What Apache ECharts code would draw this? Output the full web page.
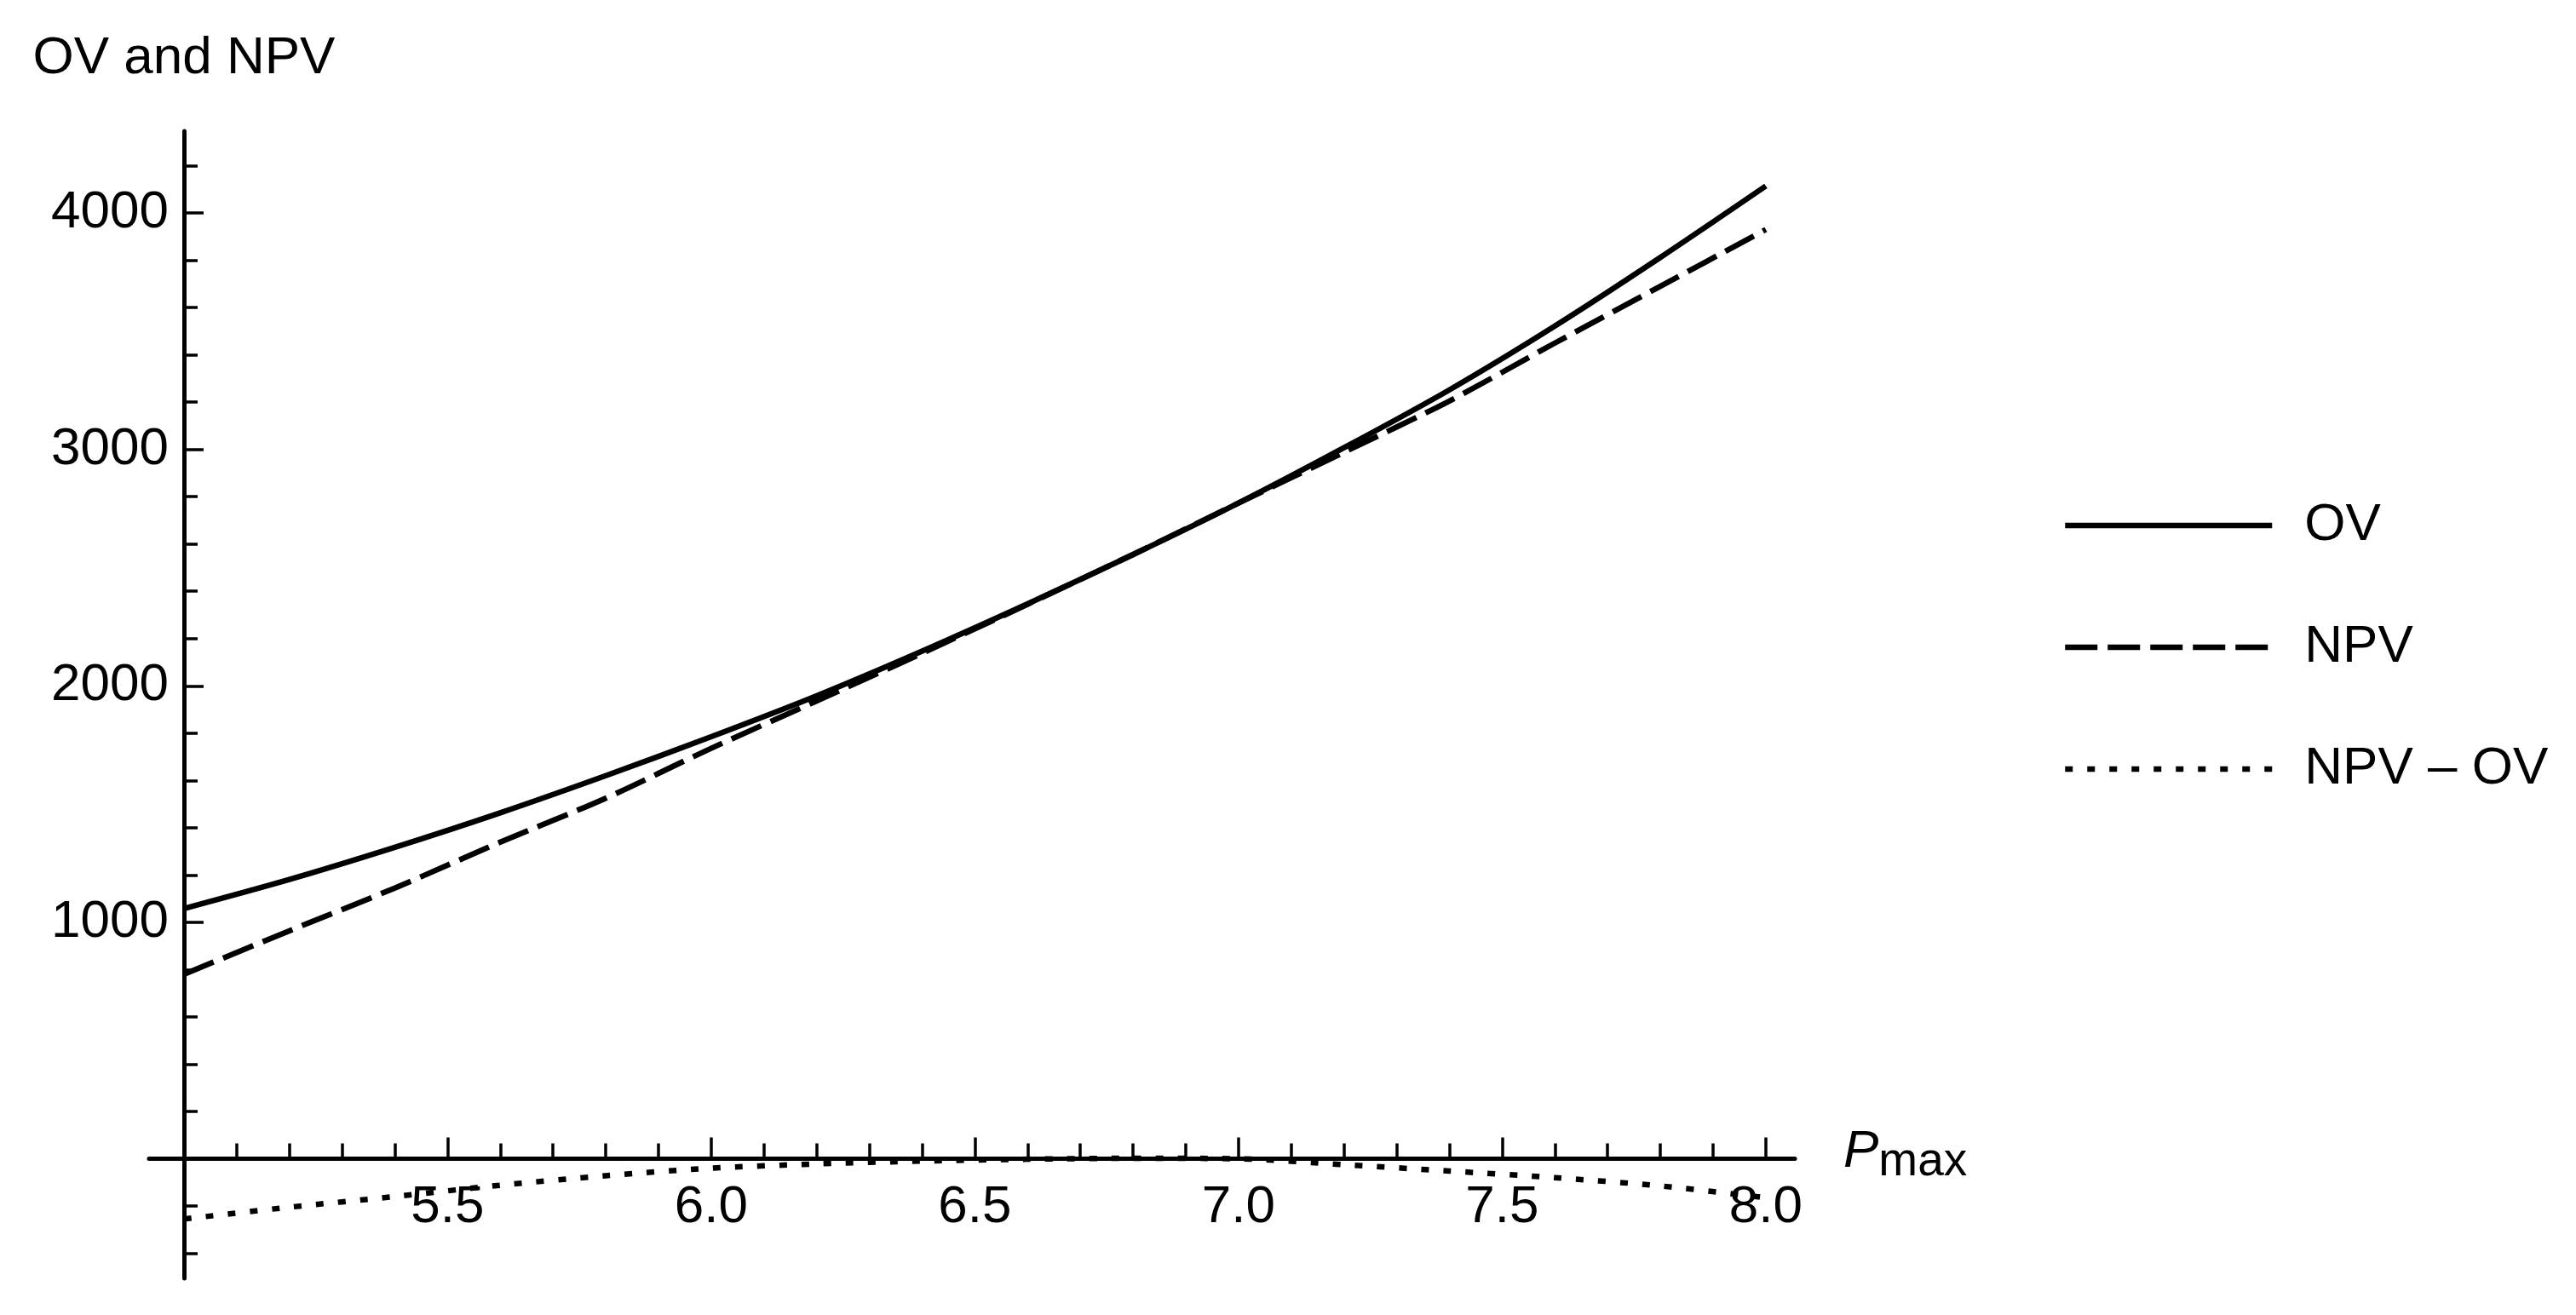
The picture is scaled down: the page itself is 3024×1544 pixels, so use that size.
<!DOCTYPE html>
<html>
<head>
<meta charset="utf-8">
<title>OV and NPV</title>
<script src="https://cdn.jsdelivr.net/npm/echarts@6/dist/echarts.min.js"></script>
<style>
  html, body { margin: 0; padding: 0; background: #fff; }
  #chart { width: 3024px; height: 1544px; }
</style>
</head>
<body>
<div id="chart"></div>
<script>
// values
var pmax = [5.0, 5.2, 5.4, 5.6, 5.8, 6.0, 6.2, 6.4, 6.6, 6.8, 7.0, 7.2, 7.4, 7.6, 7.8, 8.0];
var ov = [1058, 1181, 1317, 1463, 1620, 1785, 1958, 2147, 2347, 2555, 2773, 3007, 3252, 3522, 3812, 4114];
var npv = [780, 964, 1145, 1339, 1525, 1736, 1936, 2138, 2345, 2556, 2773, 2988, 3205, 3450, 3690, 3930];
var npvMinusOv = [-255, -205, -160, -112, -72, -40, -22, -10, -2, 2, 0, -25, -52, -80, -115, -165];

var legendNames = ['OV', 'NPV', 'NPV \u2013 OV'];

// ticks
var xMajorTicks = [5.5, 6.0, 6.5, 7.0, 7.5, 8.0];
var xMinorTicks = [5.1, 5.2, 5.3, 5.4, 5.6, 5.7, 5.8, 5.9, 6.1, 6.2, 6.3, 6.4,
                   6.6, 6.7, 6.8, 6.9, 7.1, 7.2, 7.3, 7.4, 7.6, 7.7, 7.8, 7.9];
var yMajorTicks = [1000, 2000, 3000, 4000];
var yMinorTicks = [-400, -200, 200, 400, 600, 800, 1200, 1400, 1600, 1800,
                   2200, 2400, 2600, 2800, 3200, 3400, 3600, 3800, 4200];

var font = '"Liberation Sans", Arial, sans-serif';
var black = '#000';

function pairs(ys) {
    return pmax.map(function (x, i) { return [x, ys[i]]; });
}

function curve(name, ys, dash) {
    return {
        name: name,
        type: 'line',
        xAxisIndex: 0,
        yAxisIndex: 0,
        data: pairs(ys),
        symbol: 'none',
        showSymbol: false,
        smooth: 0.3,
        itemStyle: { color: black },
        lineStyle: { color: black, width: 6.5, type: dash }
    };
}

var chart = echarts.init(document.getElementById('chart'));

var option = {
    animation: false,
    backgroundColor: '#fff',
    textStyle: { fontFamily: font, color: black },
    grid: { left: 175, right: 917, top: 154, bottom: 43, containLabel: false, outerBoundsMode: 'none' },
    legend: {
        orient: 'vertical',
        left: 2421,
        top: 586,
        padding: 0,
        itemGap: 81,
        itemWidth: 243,
        itemHeight: 6,
        selectedMode: false,
        itemStyle: { color: 'rgba(0,0,0,0)', borderColor: 'rgba(0,0,0,0)', borderWidth: 0 },
        lineStyle: { width: 6.5 },
        textStyle: { fontSize: 62, color: black, fontFamily: font, padding: [0, 0, 0, 33] },
        data: legendNames
    },
    xAxis: [{
        type: 'value',
        min: 4.934,
        max: 8.055,
        position: 'bottom',
        name: '{p|P}{s|max}',
        nameLocation: 'end',
        nameGap: 57,
        nameTextStyle: {
            padding: [0, 0, 16, 0],
            rich: {
                p: { fontSize: 62, fontStyle: 'italic', fontFamily: font, color: black, lineHeight: 80 },
                s: { fontSize: 55, fontFamily: font, color: black, lineHeight: 55, verticalAlign: 'bottom' }
            }
        },
        axisLine: { onZero: true, onZeroAxisIndex: 0, lineStyle: { color: black, width: 5 } },
        axisTick: { customValues: xMajorTicks, inside: true, length: 25, lineStyle: { color: black, width: 3.5 } },
        axisLabel: {
            // labels stay at the grid edge, pull them up under the zero line
            customValues: xMajorTicks, margin: -114, fontSize: 62, color: black, fontFamily: font,
            formatter: function (v) { return v.toFixed(1); }
        },
        splitLine: { show: false }
    }, {
        // minor ticks only
        type: 'value',
        min: 4.934,
        max: 8.055,
        position: 'bottom',
        axisLine: { show: false, onZero: true, onZeroAxisIndex: 0 },
        axisTick: { customValues: xMinorTicks, inside: true, length: 18, lineStyle: { color: black, width: 3.5 } },
        axisLabel: { show: false },
        splitLine: { show: false }
    }],
    yAxis: [{
        type: 'value',
        min: -506,
        max: 4346,
        position: 'left',
        offset: -41,
        name: 'OV and NPV',
        nameLocation: 'end',
        nameGap: 54,
        nameTextStyle: { fontSize: 62, color: black, fontFamily: font },
        axisLine: { onZero: false, lineStyle: { color: black, width: 5 } },
        axisTick: { customValues: yMajorTicks, inside: true, length: 23, lineStyle: { color: black, width: 3.5 } },
        axisLabel: {
            customValues: yMajorTicks, margin: 18, fontSize: 62, color: black, fontFamily: font,
            formatter: function (v) { return String(v); }
        },
        splitLine: { show: false }
    }, {
        type: 'value',
        min: -506,
        max: 4346,
        position: 'left',
        offset: -41,
        axisLine: { show: false, onZero: false },
        axisTick: { customValues: yMinorTicks, inside: true, length: 16, lineStyle: { color: black, width: 3.5 } },
        axisLabel: { show: false },
        splitLine: { show: false }
    }],
    series: [
        curve(legendNames[0], ov, 'solid'),
        curve(legendNames[1], npv, [38, 12]),
        curve(legendNames[2], npvMinusOv, [9, 17])
    ]
};

chart.setOption(option);
</script>
</body>
</html>
